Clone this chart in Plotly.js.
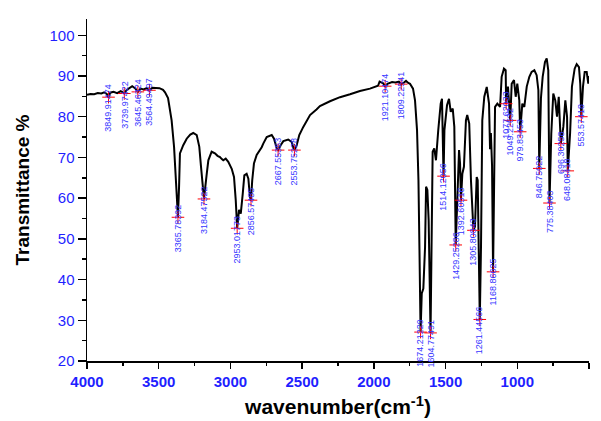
<!DOCTYPE html>
<html>
<head>
<meta charset="utf-8">
<script src="https://cdn.plot.ly/plotly-3.0.1.min.js"></script>
<style>
  html, body { margin: 0; padding: 0; background: #ffffff; }
  #chart { width: 601px; height: 421px; }
</style>
</head>
<body>
<div id="chart"></div>
<script>
// FTIR spectrum: wavenumber (cm-1) vs transmittance (%)
const baseWn = [
  4000, 3975, 3950, 3925, 3900, 3880, 3862, 3838, 3815, 3790, 3765, 3750,
  3725, 3705, 3685, 3665, 3628, 3605, 3585, 3545, 3520, 3495, 3470, 3456,
  3435, 3410, 3393, 3380, 3358, 3352, 3329, 3305, 3280, 3259, 3235, 3217,
  3205, 3165, 3154, 3131, 3108, 3090, 3073, 3060, 3050, 3033, 3015, 2991,
  2975, 2963, 2958, 2940, 2928, 2914, 2903, 2887, 2875, 2864, 2848, 2836,
  2817, 2800, 2782, 2771, 2747, 2712, 2696, 2677, 2650, 2631, 2597, 2573,
  2560, 2538, 2520, 2492, 2468, 2445, 2400, 2376, 2306, 2236, 2166, 2097,
  2027, 1971, 1960, 1935, 1905, 1873, 1850, 1825, 1790, 1776, 1760, 1748,
  1727, 1713, 1699, 1689, 1682, 1666, 1655, 1643, 1636, 1627, 1618, 1597,
  1590, 1579, 1567, 1551, 1534, 1525, 1520, 1508, 1490, 1476, 1464, 1450,
  1439, 1415, 1406, 1399, 1383, 1372, 1358, 1349, 1335, 1323, 1295, 1283,
  1276, 1253, 1244, 1230, 1213, 1197, 1190, 1184, 1176, 1162, 1155, 1139,
  1120, 1109, 1093, 1081, 1065, 1039, 1023, 1011, 1000, 986, 965, 951,
  934, 916, 900, 881, 865, 853, 835, 823, 807, 795, 784, 763,
  749, 735, 723, 711, 679, 665, 653, 632, 619, 600, 586, 570,
  561, 542, 530, 516, 505, 500
];
const baseT = [
  85.4, 85.6, 85.5, 85.8, 85.7, 86.0, 85.6, 85.9, 86.1, 85.8, 86.3, 86.0,
  86.5, 87.0, 87.5, 87.0, 86.9, 86.7, 87.0, 87.1, 87.0, 87.0, 86.6, 86.0,
  84.6, 79.1, 72.6, 64.4, 63.0, 71.0, 73.0, 74.6, 75.6, 76.0, 75.5, 72.6,
  67.7, 66.0, 69.3, 71.4, 71.0, 70.4, 70.1, 69.6, 69.3, 69.7, 68.9, 67.2,
  65.2, 59.5, 55.4, 57.1, 56.2, 61.1, 65.6, 66.0, 64.8, 60.3, 64.4, 68.5,
  70.6, 71.4, 72.5, 73.4, 75.0, 75.5, 74.6, 72.2, 73.0, 74.0, 74.4, 73.8,
  72.2, 73.0, 75.5, 77.5, 79.1, 80.4, 81.8, 82.6, 83.8, 84.8, 85.5, 86.3,
  86.9, 87.6, 88.6, 88.2, 88.1, 88.5, 88.4, 88.6, 88.4, 88.8, 88.3, 88.1,
  86.9, 84.0, 76.7, 64.4, 47.2, 36.6, 37.8, 48.0, 62.8, 62.0, 54.6, 50.0,
  71.4, 72.2, 69.3, 76.7, 83.2, 84.4, 74.0, 76.7, 82.8, 84.4, 81.2, 82.0,
  77.5, 64.4, 71.8, 68.5, 66.0, 67.7, 79.1, 80.4, 78.3, 64.4, 53.0, 65.2,
  64.4, 48.0, 79.1, 84.9, 87.3, 83.2, 72.0, 76.0, 68.0, 62.0, 82.4, 83.2,
  82.4, 89.8, 91.8, 91.4, 87.4, 88.1, 89.0, 84.9, 88.1, 84.0, 83.2, 82.4,
  87.4, 89.8, 91.0, 91.4, 90.2, 86.5, 84.6, 89.8, 93.4, 94.3, 91.4, 75.8,
  85.7, 84.0, 80.0, 84.9, 77.5, 84.0, 80.0, 75.8, 87.4, 91.8, 92.9, 92.2,
  88.1, 87.4, 91.0, 91.0, 88.1, 90.0
];

// Picked band positions and their transmittance
const peakWn = [
  3849.91474, 3739.97422, 3645.46324, 3564.49497, 3365.78392, 3184.47522,
  2953.01773, 2856.57485, 2667.55353, 2553.75228, 1921.10474, 1809.22541,
  1674.21229, 1604.77491, 1514.12056, 1429.25286, 1392.60516, 1305.80843,
  1261.44566, 1168.86625, 1077.62033, 1049.22632, 979.83453, 846.75022,
  775.38403, 696.30258, 648.08418, 553.57418
];
const peakT = [
  84.8, 85.7, 86.1, 86.5, 55.3, 59.8,
  52.6, 59.5, 71.8, 71.8, 87.5, 88.0,
  27.1, 26.9, 65.4, 48.5, 59.5, 52.1,
  30.2, 41.9, 83.2, 79.1, 76.3, 67.3,
  58.8, 73.4, 66.7, 80.0
];

// merge the baseline points with the picked bands, ordered high to low wavenumber
const merged = baseWn.map((w, i) => [w, baseT[i]])
  .concat(peakWn.map((w, i) => [w, peakT[i]]))
  .sort((a, b) => b[0] - a[0]);
const specWn = merged.map(p => p[0]);
const specT = merged.map(p => p[1]);

const spectrum = {
  x: specWn, y: specT,
  type: 'scatter', mode: 'lines',
  line: { color: '#000000', width: 2 },
  hoverinfo: 'skip'
};
const bandMarks = {
  x: peakWn, y: peakT,
  type: 'scatter', mode: 'markers',
  marker: { symbol: 'cross-thin', size: 9, color: '#ff0000', line: { color: '#ff0000', width: 1 } },
  hoverinfo: 'skip'
};

const bandLabels = peakWn.map((w, i) => ({
  x: w, y: peakT[i], xref: 'x', yref: 'y',
  text: w.toFixed(5),
  textangle: -90,
  showarrow: false,
  xanchor: 'center', yanchor: 'top',
  yshift: 15,
  font: { family: 'Arial, Liberation Sans, sans-serif', size: 9, color: '#3535ff' }
}));

const layout = {
  width: 601, height: 421,
  margin: { l: 87, r: 12, t: 19, b: 60 },
  paper_bgcolor: '#ffffff', plot_bgcolor: '#ffffff',
  showlegend: false,
  font: { family: 'Arial, Liberation Sans, sans-serif' },
  xaxis: {
    range: [4000, 500],
    tickmode: 'linear', tick0: 500, dtick: 500,
    ticks: 'outside', ticklen: 6, tickwidth: 1.5, tickcolor: '#000000',
    minor: { dtick: 250, ticks: 'outside', ticklen: 3, tickwidth: 1.5, tickcolor: '#000000' },
    showline: true, linecolor: '#000000', linewidth: 1.5,
    showgrid: false, zeroline: false,
    tickfont: { family: 'Arial, Liberation Sans, sans-serif', size: 15, color: '#1f1fff', weight: 'bold' },
    title: {
      text: 'wavenumber(cm<sup>-1</sup>)',
      font: { family: 'Arial, Liberation Sans, sans-serif', size: 21, color: '#000000', weight: 'bold' },
      standoff: 11
    }
  },
  yaxis: {
    range: [20, 104],
    tickmode: 'linear', tick0: 0, dtick: 10,
    ticks: 'outside', ticklen: 8, tickwidth: 1.5, tickcolor: '#000000',
    minor: { dtick: 5, ticks: 'outside', ticklen: 4, tickwidth: 1.5, tickcolor: '#000000' },
    showline: true, linecolor: '#000000', linewidth: 1.5,
    showgrid: false, zeroline: false,
    tickfont: { family: 'Arial, Liberation Sans, sans-serif', size: 15, color: '#1f1fff' },
    title: {
      text: 'Transmittance %',
      font: { family: 'Arial, Liberation Sans, sans-serif', size: 19, color: '#000000', weight: 'bold' },
      standoff: 15
    }
  },
  annotations: bandLabels
};

Plotly.newPlot('chart', [spectrum, bandMarks], layout, { staticPlot: true, displayModeBar: false });
</script>
</body>
</html>
